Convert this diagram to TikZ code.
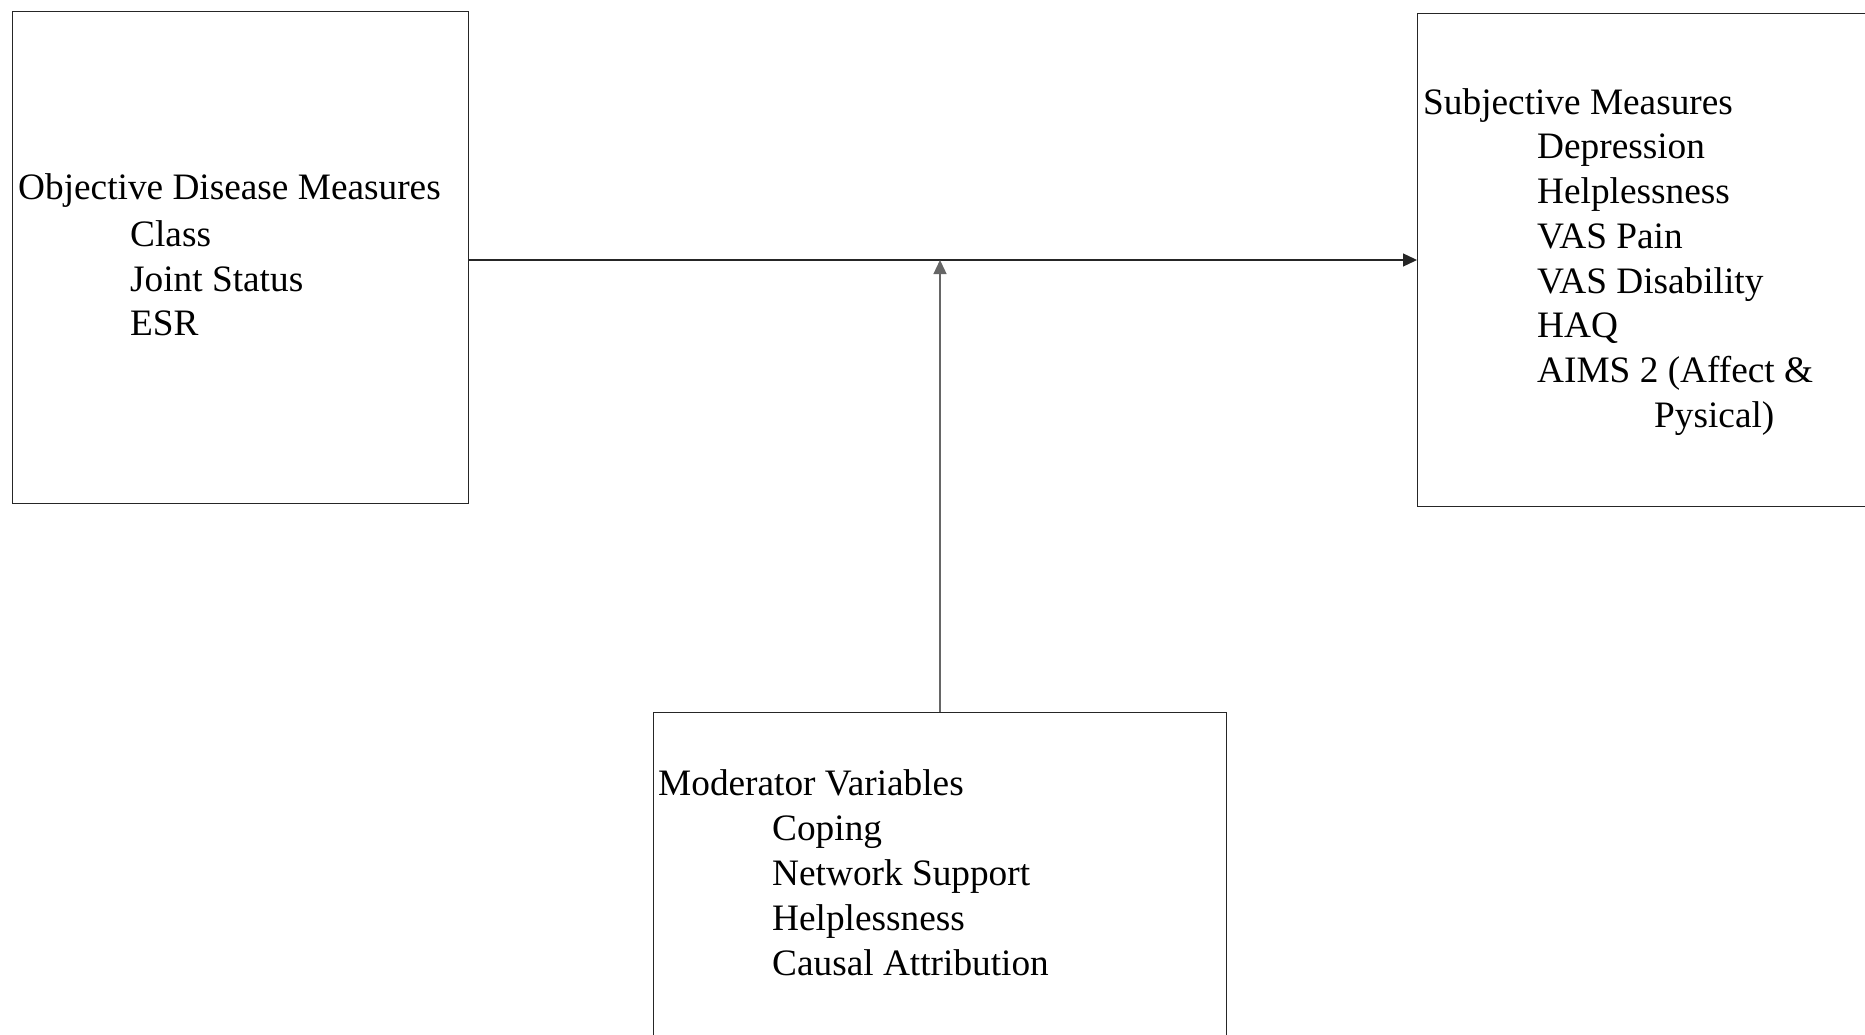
\documentclass[tikz,border=0pt]{standalone}
\usepackage{fontspec}
\setmainfont{Liberation Serif}
\usetikzlibrary{arrows.meta}
\begin{document}
\begin{tikzpicture}[x=1pt,y=-1pt,
  box/.style={draw=black!85, line width=1.4pt, rectangle, inner sep=0pt, anchor=north west},
  txt/.style={anchor=base west, inner sep=0pt, font=\fontsize{37.3}{44.6}\selectfont},
  arr/.style={draw=black!85, line width=1.3pt, -{Triangle[length=14pt,width=13pt]}}]
\useasboundingbox (0,0) rectangle (1865,1035);
\clip (0,0) rectangle (1865,1035);
\fill[white] (0,0) rectangle (1865,1035);
% boxes
\node[box, minimum width=456pt, minimum height=492pt] (obj) at (12,11) {};
\node[box, minimum width=470pt, minimum height=493pt] (subj) at (1417,13) {};
\node[box, minimum width=573pt, minimum height=360pt] (mod) at (653,712) {};
% left text
\node[txt] (o0) at (18,200) {Objective Disease Measures};
\node[txt] (o1) at (130,246) {Class};
\node[txt] (o2) at (130,291) {Joint Status};
\node[txt] (o3) at (130,335) {ESR};
% right text
\node[txt] (s0) at (1423,115) {Subjective Measures};
\node[txt] (s1) at (1537,159) {Depression};
\node[txt] (s2) at (1537,204) {Helplessness};
\node[txt] (s3) at (1537,248) {VAS Pain};
\node[txt] (s4) at (1537,293) {VAS Disability};
\node[txt] (s5) at (1537,337) {HAQ};
\node[txt] (s6) at (1537,382) {AIMS 2 (Affect \&};
\node[txt] (s7) at (1654,427) {Pysical)};
% bottom text
\node[txt] (m0) at (658,795) {Moderator Variables};
\node[txt] (m1) at (772,840) {Coping};
\node[txt] (m2) at (772,885) {Network Support};
\node[txt] (m3) at (772,930) {Helplessness};
\node[txt] (m4) at (772,975) {Causal Attribution};
% connectors
\coordinate (mid) at (940,260);
\draw[arr] (obj.east |- mid) -- (subj.west |- mid);
\draw[arr, draw=black!60, fill=black!85] (mod.north -| mid) -- (mid);
\end{tikzpicture}
\end{document}
